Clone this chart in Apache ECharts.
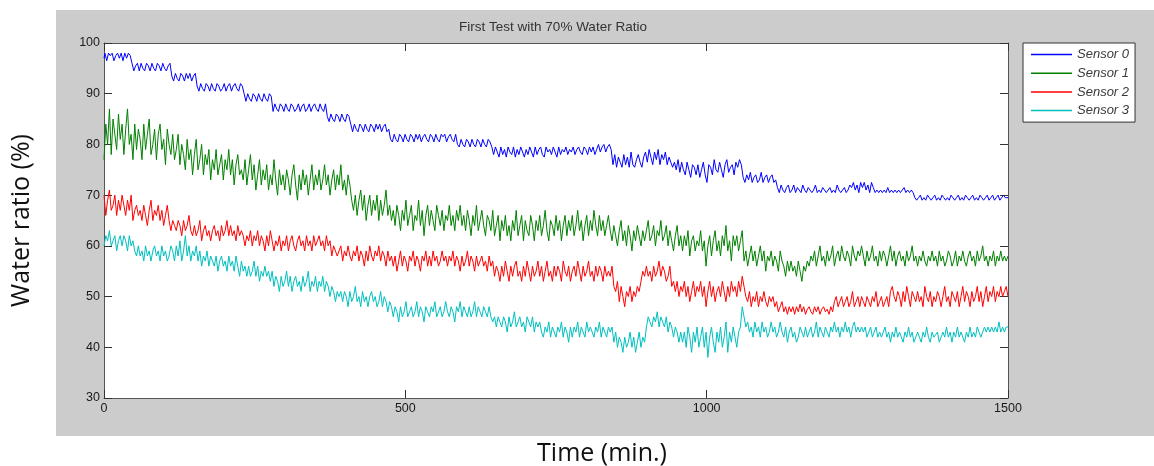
<!DOCTYPE html>
<html>
<head>
<meta charset="utf-8">
<script src="https://cdn.jsdelivr.net/npm/echarts@6/dist/echarts.min.js"></script>
<style>
  html, body { margin: 0; padding: 0; background: #ffffff; }
  #figbg { position: absolute; left: 56px; top: 10px; width: 1098px; height: 426px; background: #cccccc; }
  #chart { position: absolute; left: 0; top: 0; width: 1154px; height: 466px; }
</style>
</head>
<body>
<div id="figbg"></div>
<div id="chart"></div>
<script>
// Readings every 3 minutes, 0..1500 min (one row = 30 minutes)
const sensor0 = [
  97, 98, 96.5, 98, 97.5, 98, 96.5, 97.5, 98, 97,
  98, 96.5, 98, 97, 98, 97.5, 96, 94.5, 95.5, 96,
  94.5, 96, 95, 94.5, 96, 95.5, 94.5, 96, 95, 94.5,
  96, 95.5, 94.5, 96, 95, 94.5, 95.5, 96, 93.5, 92.5,
  94, 93, 92.5, 94, 93.5, 92.5, 94, 93, 94, 92.5,
  93.5, 94, 91.5, 90.5, 92, 91, 90.5, 92, 91.5, 90.5,
  92, 91, 90.5, 92, 91.5, 90.5, 91, 92, 90.5, 91.5,
  92, 90.5, 91.5, 92, 91, 90.5, 92, 91.5, 90, 88.5,
  90, 89, 88.5, 90, 89.5, 88.5, 90, 89, 88.5, 90,
  89, 88.5, 90, 89.5, 86.5, 88, 87, 86.5, 88, 87.5,
  86.5, 88, 87, 86.5, 88, 87.5, 86.5, 87, 88, 86.5,
  87.5, 88, 86.5, 87, 88, 86.5, 87.5, 88, 87, 86.5,
  88, 87, 86.5, 88, 85.5, 84.5, 86, 85, 84.5, 86,
  85.5, 84.5, 86, 85, 84.5, 86, 85.5, 84, 82.5, 84,
  83, 82.5, 84, 83.5, 82.5, 84, 83, 82.5, 84, 83.5,
  82.5, 84, 83, 84, 82.5, 83.5, 84, 82.5, 83, 81,
  80.5, 82, 81, 80.5, 82, 81.5, 80.5, 82, 81, 80.5,
  82, 81.5, 80.5, 82, 81, 82, 80.5, 81.5, 82, 81,
  80.5, 82, 81.5, 80.5, 82, 81, 80.5, 82, 81.5, 82,
  80.5, 81.5, 82, 81, 80.5, 82, 80, 79.5, 81, 80,
  79.5, 81, 80.5, 79.5, 81, 80, 79.5, 81, 80.5, 79.5,
  81, 80, 79.5, 81, 80.5, 79.5, 78, 79.5, 78.5, 77.5,
  79.5, 78, 79, 77.5, 79.5, 78.5, 78, 79.5, 77.5, 79,
  78, 79.5, 78.5, 77.5, 79, 78, 79.5, 78.5, 77.5, 79.5,
  78, 79, 79.5, 78, 77.5, 79.5, 78.5, 79, 78, 79.5,
  78.5, 77.5, 79.5, 78, 79, 78.5, 79.5, 78, 79, 78.5,
  79.5, 78, 79, 79.5, 78.5, 78, 79.5, 79, 78, 79.5,
  78.5, 79.5, 78, 79, 80, 78.5, 79.5, 80, 78.5, 79.5,
  80, 79, 76, 78, 75.5, 77.5, 76.5, 75.5, 78, 76,
  77.5, 75.5, 78.5, 76, 75.5, 77, 78, 76.5, 75.5, 77.5,
  78.5, 76.5, 79, 77.5, 76, 78.5, 77, 79, 76, 78,
  77, 78.5, 76, 77.5, 76.5, 75.5, 76.5, 75, 77, 74.5,
  76.5, 75, 74, 76.5, 75, 73.5, 76, 75.5, 74, 76,
  73.5, 75, 76.5, 74, 72.5, 76, 75.5, 74, 77, 75,
  74.5, 76.5, 75, 73.5, 76, 77, 74.5, 75.5, 76, 74,
  76.5, 75.5, 77, 76, 73.5, 72.5, 74, 73, 74.5, 72.5,
  73.5, 74, 72.5, 73, 74.5, 72.5, 73.5, 74, 72.5, 73.5,
  74, 72.5, 73, 71.5, 70.5, 72, 71, 70.5, 71.5, 72,
  70.5, 71, 72, 70.5, 71.5, 71, 70.5, 72, 71, 70.5,
  71.5, 71, 70.5, 71, 72, 70.5, 71, 70.5, 71.5, 71,
  70.5, 71, 71.5, 70.5, 71, 70.5, 72, 71, 70.5, 71,
  71.5, 70.5, 71, 72, 71.5, 72.5, 71, 72, 70.5, 72.5,
  71.5, 72.5, 71, 72, 70.5, 72.5, 71.5, 70.5, 71, 70.5,
  71, 70.5, 71, 70.5, 71.5, 70.5, 71, 70.5, 71, 70.5,
  71, 70.5, 71, 71.5, 70.5, 71, 70.5, 71, 70.5, 69.5,
  69, 69.5, 70, 69, 69.5, 69, 70, 69.5, 69, 69.5,
  70, 69, 69.5, 69, 70, 69.5, 69, 69.5, 69, 70,
  69.5, 69, 69.5, 70, 69, 69.5, 69, 70, 69.5, 69,
  69.5, 70, 69, 69.5, 69, 70, 69.5, 69, 69.5, 70,
  69, 69.5, 70, 69, 69.5, 70, 69, 69.5, 70, 69.5,
  69.5
];
const sensor1 = [
  77, 84, 80, 87, 78, 85, 82, 79, 86, 81,
  84, 78, 83, 87, 80, 82, 77, 84, 79, 83,
  81, 77, 84, 79, 82, 85, 78, 80, 83, 77,
  82, 84, 79, 81, 76, 83, 80, 78, 82, 77,
  79, 82, 76, 80, 78, 75, 81, 77, 79, 74,
  78, 81, 75, 77, 80, 74, 78, 76, 79, 73,
  77, 75, 79, 74, 76, 78, 73, 77, 75, 79,
  74, 77, 72, 76, 78, 74, 75, 73, 77, 72,
  75, 78, 73, 76, 71, 74, 77, 72, 75, 73,
  76, 71, 74, 72, 77, 73, 70, 75, 72, 74,
  71, 75, 73, 70, 74, 76, 72, 69, 74, 71,
  75, 72, 74, 70, 73, 76, 71, 74, 72, 75,
  71, 73, 76, 72, 74, 70, 73, 75, 71, 74,
  72, 76, 71, 73, 70, 74, 72, 69, 67, 70,
  66, 69, 71, 67, 70, 65, 68, 70, 66, 69,
  67, 70, 65, 69, 66, 68, 71, 66, 68, 65,
  67, 64, 68, 66, 63, 67, 65, 69, 64, 66,
  68, 63, 66, 65, 69, 64, 67, 62, 66, 68,
  64, 67, 65, 63, 68, 66, 64, 67, 63, 66,
  65, 68, 64, 66, 63, 67, 65, 68, 64, 66,
  63, 67, 65, 62, 66, 64, 68, 63, 65, 67,
  64, 62, 66, 65, 63, 67, 62, 64, 66, 61,
  65, 63, 66, 62, 64, 61, 65, 63, 67, 62,
  64, 66, 61, 65, 63, 62, 66, 64, 61, 65,
  63, 66, 62, 64, 67, 63, 61, 65, 64, 62,
  66, 63, 65, 61, 64, 66, 62, 65, 63, 66,
  62, 64, 67, 63, 65, 61, 64, 66, 62, 65,
  63, 67, 64, 62, 66, 63, 65, 62, 64, 66,
  63, 61, 64, 62, 60, 63, 65, 61, 63, 60,
  64, 62, 59, 63, 61, 64, 62, 60, 63, 61,
  63, 65, 61, 62, 64, 60, 63, 62, 65, 61,
  62, 64, 60, 63, 61, 59, 62, 64, 60, 62,
  59, 62, 60, 63, 58, 61, 62, 59, 61, 60,
  63, 59, 61, 56, 60, 62, 58, 61, 63, 59,
  61, 58, 62, 60, 64, 59, 61, 57, 62, 60,
  62, 59, 61, 63, 57, 59, 56, 58, 60, 57,
  59, 56, 58, 60, 57, 59, 55, 58, 57, 59,
  56, 58, 57, 55, 59, 57, 56, 54, 57, 55,
  57, 55, 56, 54, 57, 55, 53, 56, 55, 57,
  56, 58, 57, 59, 56, 58, 60, 57, 58, 56,
  59, 57, 58, 60, 56, 58, 59, 57, 60, 58,
  57, 59, 58, 56, 60, 58, 57, 59, 58, 60,
  58, 56, 59, 57, 58, 60, 57, 58, 56, 59,
  57, 59, 58, 56, 58, 60, 57, 59, 56, 58,
  59, 57, 58, 56, 59, 57, 58, 60, 57, 58,
  56, 58, 57, 59, 57, 56, 58, 57, 59, 57,
  58, 56, 59, 57, 58, 56, 57, 59, 58, 56,
  57, 59, 56, 58, 57, 59, 57, 56, 58, 59,
  57, 58, 56, 59, 57, 58, 60, 57, 58, 56,
  58, 57, 59, 56, 58, 57, 59, 57, 58, 57,
  58
];
const sensor2 = [
  70, 66, 69, 71, 67, 68, 70, 66, 69, 67,
  70, 68, 66, 69, 67, 70, 65, 67, 68, 66,
  67, 65, 68, 66, 64, 67, 69, 65, 67, 66,
  68, 65, 67, 64, 66, 68, 65, 63, 65, 64,
  63, 65, 64, 62, 65, 63, 64, 66, 63, 62,
  64, 62, 63, 65, 61, 63, 64, 62, 63, 61,
  63, 64, 62, 63, 61, 64, 62, 63, 65, 62,
  64, 62, 63, 61, 64, 62, 63, 62, 60, 62,
  61, 63, 60, 62, 61, 63, 60, 62, 61, 59,
  62, 60, 63, 61, 59, 61, 60, 62, 59, 61,
  60, 62, 59, 61, 62, 60, 59, 61, 62, 60,
  61, 59, 62, 60, 61, 59, 62, 60, 61, 62,
  60, 61, 59, 62, 60, 61, 58, 60, 59, 58,
  59, 60, 57, 59, 58, 60, 58, 57, 59, 58,
  60, 57, 59, 58, 56, 59, 57, 60, 58, 57,
  59, 58, 60, 57, 59, 58, 56, 59, 57, 58,
  56, 58, 55, 57, 59, 56, 58, 57, 55, 58,
  57, 59, 56, 58, 57, 55, 58, 57, 59, 56,
  58, 56, 59, 57, 58, 56, 57, 59, 57, 58,
  56, 58, 57, 59, 56, 58, 57, 55, 58, 56,
  57, 59, 56, 58, 57, 55, 58, 56, 57, 58,
  56, 57, 55, 58, 56, 57, 54, 56, 55, 53,
  56, 54, 57, 55, 53, 56, 54, 56, 57, 54,
  55, 53, 56, 54, 57, 55, 53, 56, 54, 55,
  57, 54, 56, 53, 55, 57, 54, 55, 53, 56,
  54, 56, 55, 53, 57, 55, 54, 56, 53, 55,
  56, 54, 57, 55, 53, 56, 54, 55, 57, 54,
  55, 53, 56, 54, 56, 55, 53, 56, 54, 55,
  54, 56, 52, 51, 53, 49, 52, 50, 48, 51,
  50, 52, 49, 51, 50, 52, 51, 53, 55, 54,
  56, 54, 55, 53, 56, 54, 55, 57, 54, 56,
  55, 53, 54, 56, 52, 53, 51, 53, 50, 52,
  51, 53, 50, 52, 49, 51, 53, 50, 52, 51,
  53, 50, 52, 48, 51, 53, 50, 52, 49, 51,
  52, 50, 53, 51, 49, 52, 50, 53, 51, 52,
  50, 53, 51, 54, 52, 50, 49, 51, 48, 50,
  49, 51, 48, 50, 49, 51, 49, 48, 50, 49,
  50, 48, 49, 47, 48, 49, 47, 48, 46.5, 48,
  47, 48, 46.5, 48, 47, 48.5, 47, 48, 46.5, 47.5,
  48, 47, 46.5, 48, 47, 48, 46.5, 47.5, 48, 47,
  47.5, 46.5, 48, 47, 49, 50, 48, 49, 50, 48,
  49, 50, 48, 49, 51, 48, 49, 50, 48, 50,
  49, 48, 50, 49, 48, 50, 49, 51, 48, 49,
  50, 48, 49, 50, 48, 51, 52, 50, 49, 51,
  50, 48, 51, 49, 52, 50, 48, 51, 50, 49,
  51, 49, 50, 48, 52, 50, 49, 51, 48, 50,
  49, 51, 50, 48, 50, 52, 49, 50, 48, 51,
  50, 49, 51, 48, 50, 52, 49, 51, 50, 48,
  51, 49, 50, 52, 49, 51, 48, 50, 52, 49,
  51, 50, 52, 49, 51, 50, 52, 50, 51, 52,
  50
];
const sensor3 = [
  60, 62, 61, 63, 60, 61, 62, 59, 61, 62,
  60, 62, 61, 59, 62, 60, 61, 59, 58, 60,
  58, 59, 57, 60, 58, 59, 57, 59, 60, 58,
  59, 57, 60, 58, 59, 57, 58, 60, 59, 57,
  60, 58, 61, 57, 59, 62, 58, 60, 57, 59,
  58, 60, 57, 59, 56, 58, 57, 59, 56, 58,
  57, 56, 58, 55, 57, 58, 56, 57, 55, 58,
  56, 57, 55, 58, 56, 54, 57, 55, 56, 54,
  56, 54, 55, 57, 54, 56, 53, 55, 54, 56,
  54, 55, 53, 55, 52, 54, 53, 51, 54, 52,
  53, 55, 52, 54, 51, 53, 54, 52, 53, 51,
  54, 52, 53, 55, 51, 53, 52, 54, 51, 53,
  52, 54, 51, 53, 52, 50, 52, 51, 49, 51,
  50, 51, 49, 51, 50, 48, 51, 49, 50, 52,
  49, 50, 48, 51, 49, 50, 48, 50, 51, 49,
  50, 48, 49, 51, 48, 50, 49, 47, 49, 48,
  46, 48, 47, 45, 48, 46, 47, 49, 46, 47,
  48, 46, 47, 49, 46, 48, 47, 45, 48, 47,
  46, 48, 47, 49, 46, 47, 48, 46, 47, 49,
  47, 46, 48, 47, 45, 48, 47, 49, 46, 48,
  47, 46, 48, 46, 47, 49, 46, 48, 47, 46,
  48, 47, 46, 48, 46, 45, 46, 44, 46, 45,
  44, 46, 45, 43, 46, 44, 45, 47, 44, 45,
  46, 44, 45, 43, 46, 45, 44, 46, 43, 45,
  44, 45, 43, 42, 44, 43, 45, 42, 44, 43,
  42, 44, 43, 45, 42, 44, 43, 41, 44, 42,
  44, 43, 45, 42, 44, 43, 42, 45, 43, 44,
  43, 42, 44, 43, 45, 42, 44, 43, 42, 44,
  43, 44, 41, 43, 40, 42, 41, 39, 42, 40,
  41, 43, 40, 42, 39, 41, 43, 40, 42, 41,
  44, 46, 45, 44, 46, 45, 47, 44, 46, 45,
  44, 46, 43, 45, 44, 42, 44, 43, 41, 43,
  41, 43, 40, 44, 42, 39, 43, 41, 44, 40,
  42, 44, 40, 43, 38, 42, 44, 41, 39, 43,
  41, 44, 40, 42, 45, 39, 43, 41, 44, 42,
  40, 43, 44, 48, 46, 44, 45, 43, 44, 42,
  45, 43, 44, 42, 45, 43, 44, 42, 43, 45,
  43, 44, 42, 43, 45, 43, 42, 44, 41, 43,
  44, 42, 43, 41, 42, 44, 43, 42, 44, 42,
  43, 44, 42, 43, 45, 42, 44, 43, 42, 44,
  43, 42, 44, 43, 45, 43, 44, 42, 44, 43,
  45, 43, 44, 42, 44, 45, 43, 44, 43, 44,
  43, 44, 42, 43, 44, 42, 43, 44, 42, 43,
  42, 43, 44, 42, 43, 41, 43, 42, 44, 42,
  43, 42, 41, 43, 42, 44, 42, 43, 41, 42,
  43, 42, 41, 43, 42, 44, 42, 41, 43, 42,
  42, 43, 41, 42, 43, 42, 44, 42, 43, 41,
  43, 42, 44, 42, 43, 42, 41, 43, 42, 44,
  42, 43, 42, 44, 43, 42, 43, 44, 43, 44,
  43, 44, 43, 44, 43, 45, 43, 44, 43, 44,
  44
];
const sampleMinutes = 3;
const seriesNames = ['Sensor 0', 'Sensor 1', 'Sensor 2', 'Sensor 3'];
const seriesColors = ['#0000ff', '#008000', '#ff0000', '#00bfbf'];
const xTicks = [0, 500, 1000, 1500];
const yTicks = [30, 40, 50, 60, 70, 80, 90, 100];
const chartTitle = 'First Test with 70% Water Ratio';
const xName = 'Time (min.)';
const yName = 'Water ratio (%)';

const allData = [sensor0, sensor1, sensor2, sensor3];
const chart = echarts.init(document.getElementById('chart'), null, { renderer: 'canvas' });
const axisColor = '#555555';
const tickFont = { fontFamily: 'Liberation Sans, Arial, sans-serif', fontSize: 12.5, color: '#1a1a1a' };

const option = {
  backgroundColor: 'transparent',
  animation: false,
  title: {
    text: chartTitle,
    left: 553,
    top: 20,
    textAlign: 'center',
    padding: 0,
    textStyle: { fontFamily: 'Liberation Sans, Arial, sans-serif', fontSize: 13.5, fontWeight: 'normal', color: '#333' }
  },
  legend: {
    data: seriesNames,
    orient: 'vertical',
    left: 1023,
    top: 43,
    backgroundColor: '#ffffff',
    borderColor: '#333',
    borderWidth: 1,
    borderRadius: 0,
    padding: [5, 6, 5, 8],
    itemGap: 5.7,
    itemWidth: 41,
    itemHeight: 1.5,
    icon: 'rect',
    textStyle: { fontFamily: 'Liberation Sans, Arial, sans-serif', fontStyle: 'italic', fontSize: 13, color: '#3a3a3a', lineHeight: 13 }
  },
  grid: {
    left: 104, top: 43, right: 146, bottom: 68,
    outerBoundsMode: 'none',
    containLabel: false,
    show: true, backgroundColor: '#ffffff', borderWidth: 0
  },
  xAxis: [{
    type: 'value', min: xTicks[0], max: xTicks[xTicks.length - 1], interval: 500,
    position: 'bottom',
    name: xName, nameLocation: 'middle', nameGap: 43,
    nameTextStyle: { fontFamily: 'Open Sans, Noto Sans, sans-serif', fontSize: 25, color: '#111', padding: [0, 0, 0, 92] },
    axisLine: { show: true, onZero: false, lineStyle: { color: axisColor, width: 1 } },
    axisTick: { show: true, inside: true, length: 8, lineStyle: { color: '#333' } },
    axisLabel: Object.assign({ margin: 4, formatter: v => String(v) }, tickFont),
    splitLine: { show: false }
  }, {
    type: 'value', min: xTicks[0], max: xTicks[xTicks.length - 1], interval: 500,
    position: 'top',
    axisLine: { show: true, onZero: false, lineStyle: { color: axisColor, width: 1 } },
    axisTick: { show: true, inside: true, length: 8, lineStyle: { color: '#333' } },
    axisLabel: { show: false },
    splitLine: { show: false }
  }],
  yAxis: [{
    type: 'value', min: yTicks[0], max: yTicks[yTicks.length - 1], interval: 10,
    position: 'left',
    name: yName, nameLocation: 'middle', nameGap: 70, nameRotate: 90,
    nameTextStyle: { fontFamily: 'Open Sans, Noto Sans, sans-serif', fontSize: 25, color: '#111' },
    axisLine: { show: true, onZero: false, lineStyle: { color: axisColor, width: 1 } },
    axisTick: { show: true, inside: true, length: 8, lineStyle: { color: '#333' } },
    axisLabel: Object.assign({ margin: 4, formatter: v => String(v) }, tickFont),
    splitLine: { show: false }
  }, {
    type: 'value', min: yTicks[0], max: yTicks[yTicks.length - 1], interval: 10,
    position: 'right',
    axisLine: { show: true, onZero: false, lineStyle: { color: axisColor, width: 1 } },
    axisTick: { show: true, inside: true, length: 8, lineStyle: { color: '#333' } },
    axisLabel: { show: false },
    splitLine: { show: false }
  }],
  series: allData.map((vals, k) => ({
    name: seriesNames[k],
    type: 'line',
    xAxisIndex: 0,
    yAxisIndex: 0,
    data: vals.map((v, i) => [i * sampleMinutes, v]),
    step: k === 0 ? 'middle' : false,
    showSymbol: false,
    symbol: 'none',
    color: seriesColors[k],
    lineStyle: { width: 1, color: seriesColors[k] },
    z: 10 - k
  }))
};
chart.setOption(option);
</script>
</body>
</html>
